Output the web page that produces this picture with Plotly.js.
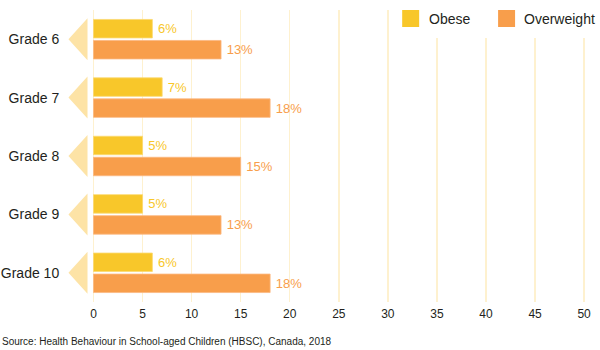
<!DOCTYPE html>
<html>
<head>
<meta charset="utf-8">
<script src="https://cdn.plot.ly/plotly-3.0.1.min.js"></script>
<style>html,body{margin:0;padding:0;background:#fff;}#chart{width:600px;height:350px;}</style>
</head>
<body>
<div id="chart"></div>
<script>
var categories = ['Grade 6', 'Grade 7', 'Grade 8', 'Grade 9', 'Grade 10'];
var obese = [6, 7, 5, 5, 6];
var overweight = [13, 18, 15, 13, 18];
var xTicks = [0, 5, 10, 15, 20, 25, 30, 35, 40, 45, 50];
var seriesNames = ['Obese', 'Overweight'];
var sourceText = 'Source: Health Behaviour in School-aged Children (HBSC), Canada, 2018';

var YELLOW = '#f8c72a';
var ORANGE = '#f89e4b';
var FONT = 'Liberation Sans, Arial, sans-serif';

var M = {l: 66.5, r: 10, t: 10, b: 48};
var W = 600 - M.l - M.r, H = 350 - M.t - M.b;
function px(p) { return (p - M.l) / W; }       // page pixel -> paper x
function py(p) { return (M.t + H - p) / H; }   // page pixel -> paper y

var pos = categories.map(function (c, i) { return i; });

// decorative left-pointing triangles beside each category
var triX = [], triY = [];
pos.forEach(function (p) {
  triX.push(-0.61, -2.55, -0.61, -0.61, null);
  triY.push(p - 0.36, p, p + 0.36, p - 0.36, null);
});

function pct(v) { return '\u2009' + v + '%'; }

var traces = [
  {
    type: 'scatter', x: triX, y: triY, mode: 'lines', fill: 'toself',
    fillcolor: '#fde3a6', line: {width: 0, color: '#fde3a6'},
    hoverinfo: 'skip', showlegend: false
  },
  {
    type: 'bar', orientation: 'h', name: seriesNames[0], y: pos, x: obese,
    marker: {color: YELLOW, line: {color: '#fbd970', width: 0.8}},
    text: obese.map(pct),
    textposition: 'outside', cliponaxis: false,
    textfont: {color: YELLOW, size: 13, family: FONT},
    showlegend: false
  },
  {
    type: 'bar', orientation: 'h', name: seriesNames[1], y: pos, x: overweight,
    marker: {color: ORANGE, line: {color: '#fbb880', width: 0.8}},
    text: overweight.map(pct),
    textposition: 'outside', cliponaxis: false,
    textfont: {color: ORANGE, size: 13, family: FONT},
    showlegend: false
  }
];

// legend drawn by hand (box, swatches, labels)
var legendColors = [YELLOW, ORANGE];
var swatchLeft = [402, 498];
var labelLeft = [428, 523];
var shapes = [{
  type: 'rect', xref: 'paper', yref: 'paper', layer: 'above',
  x0: px(394), x1: px(600), y0: py(38), y1: py(0),
  fillcolor: '#ffffff', line: {width: 0}
}];
var annotations = [];
seriesNames.forEach(function (n, i) {
  shapes.push({
    type: 'rect', xref: 'paper', yref: 'paper', layer: 'above',
    x0: px(swatchLeft[i]), x1: px(swatchLeft[i] + 17), y0: py(27), y1: py(10),
    fillcolor: legendColors[i], line: {width: 0}
  });
  annotations.push({
    text: n, xref: 'paper', yref: 'paper', x: px(labelLeft[i]), y: py(19),
    xanchor: 'left', yanchor: 'middle', showarrow: false, borderpad: 0,
    font: {size: 14, family: FONT, color: '#231f20'}
  });
});
annotations.push({
  text: sourceText, xref: 'paper', yref: 'paper', x: px(0), y: py(341),
  xanchor: 'left', yanchor: 'middle', showarrow: false, borderpad: 0,
  font: {size: 10, family: FONT, color: '#231f20'}
});

var layout = {
  width: 600, height: 350,
  margin: M,
  paper_bgcolor: '#ffffff', plot_bgcolor: '#ffffff',
  font: {family: FONT, color: '#231f20'},
  showlegend: false,
  barmode: 'group', bargap: 0.28, bargroupgap: 0.12,
  xaxis: {
    range: [-2.7, 50.6], tickvals: xTicks, ticktext: xTicks.map(String),
    showgrid: true, gridcolor: '#fef1cf', gridwidth: 1.5,
    zeroline: false, showline: false, ticks: '', ticklabelstandoff: 3,
    tickfont: {size: 12, family: FONT, color: '#231f20'},
    fixedrange: true
  },
  yaxis: {
    range: [4.5, -0.5], tickvals: pos, ticktext: categories,
    showgrid: false, zeroline: false, showline: false,
    ticks: 'outside', ticklen: 4, tickcolor: 'rgba(0,0,0,0)',
    tickfont: {size: 14, family: FONT, color: '#231f20'},
    fixedrange: true
  },
  shapes: shapes,
  annotations: annotations
};

Plotly.newPlot('chart', traces, layout, {displayModeBar: false, staticPlot: true});
</script>
</body>
</html>
